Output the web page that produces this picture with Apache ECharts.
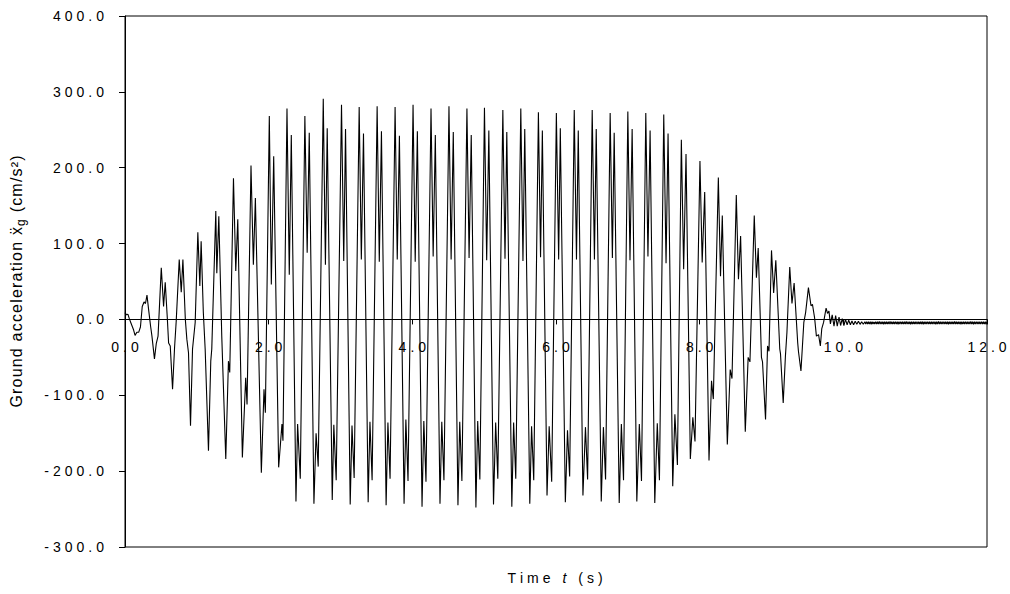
<!DOCTYPE html>
<html>
<head>
<meta charset="utf-8">
<script src="https://cdn.jsdelivr.net/npm/echarts@6.0.0/dist/echarts.min.js"></script>
<style>
  html, body { margin: 0; padding: 0; background: #fff; }
  #chart { width: 1010px; height: 594px; }
</style>
</head>
<body>
<div id="chart"></div>
<script>
// Ground acceleration record: [time (s), acceleration (cm/s²)]

// build-up of the motion, 0 – 2.2 s
const rampUp = [
  [0.00, 9], [0.02, 6], [0.04, 7], [0.06, 1], [0.08, -4], [0.10, -9], [0.12, -14], [0.14, -21],
  [0.165, -17], [0.19, -17], [0.215, -10], [0.24, 17], [0.265, 23], [0.285, 21], [0.306, 32],
  [0.33, 12], [0.355, -8], [0.375, -22], [0.41, -52], [0.435, -32], [0.46, -22],
  [0.505, 68], [0.537, 17], [0.56, 49], [0.59, 0], [0.607, -31], [0.63, -35], [0.662, -92],
  [0.69, -37], [0.713, -2], [0.755, 79], [0.783, 36], [0.806, 79], [0.84, 0], [0.861, -26],
  [0.884, -44], [0.912, -140], [0.94, -39], [0.977, -4], [1.014, 115], [1.042, 44], [1.06, 103],
  [1.09, 10], [1.116, -39], [1.162, -173], [1.194, -55], [1.208, -39], [1.264, 143], [1.278, 61],
  [1.306, 136], [1.347, -22], [1.403, -184], [1.44, -55], [1.458, -70], [1.51, 186], [1.542, 64],
  [1.57, 132], [1.634, -182], [1.68, -77], [1.699, -112], [1.754, 203], [1.787, 72], [1.815, 160],
  [1.898, -202], [1.935, -92], [1.954, -123], [2.009, 268], [2.037, 46], [2.07, 215],
  [2.139, -195], [2.185, -138], [2.199, -160]
];

// strong-motion phase, 2.25 – 7.45 s
const steady = [
  [2.255, 278], [2.287, 59], [2.315, 243], [2.38, -240], [2.403, -138], [2.44, -210],
  [2.504, 268], [2.536, 88], [2.565, 246], [2.63, -243], [2.66, -150], [2.69, -194],
  [2.76, 291], [2.79, 72], [2.815, 252], [2.885, -238], [2.907, -139], [2.94, -212],
  [3.014, 283], [3.045, 77], [3.07, 251], [3.135, -244], [3.16, -140], [3.19, -209],
  [3.26, 280], [3.29, 79], [3.32, 245], [3.385, -241], [3.41, -135], [3.44, -212],
  [3.51, 281], [3.54, 76], [3.57, 248], [3.635, -245], [3.66, -136], [3.69, -210],
  [3.76, 280], [3.79, 79], [3.82, 242], [3.885, -243], [3.91, -132], [3.94, -213],
  [4.01, 283], [4.04, 76], [4.07, 248], [4.135, -247], [4.16, -134], [4.19, -214],
  [4.26, 278], [4.29, 83], [4.32, 243], [4.385, -243], [4.41, -135], [4.44, -212],
  [4.51, 281], [4.54, 79], [4.57, 247], [4.635, -245], [4.66, -135], [4.69, -213],
  [4.76, 278], [4.79, 81], [4.82, 243], [4.885, -248], [4.91, -134], [4.94, -211],
  [5.004, 279], [5.035, 78], [5.065, 249], [5.13, -244], [5.16, -136], [5.19, -210],
  [5.26, 276], [5.29, 80], [5.315, 247], [5.385, -247], [5.41, -136], [5.44, -210],
  [5.51, 278], [5.54, 77], [5.565, 251], [5.635, -243], [5.66, -141], [5.69, -212],
  [5.755, 273], [5.785, 82], [5.81, 249], [5.875, -232], [5.905, -141], [5.94, -214],
  [6.005, 272], [6.037, 79], [6.06, 252], [6.13, -241], [6.16, -146], [6.19, -207],
  [6.254, 276], [6.285, 79], [6.31, 249], [6.375, -232], [6.41, -142], [6.44, -211],
  [6.504, 276], [6.535, 79], [6.56, 251], [6.63, -240], [6.66, -142], [6.69, -211],
  [6.754, 272], [6.785, 81], [6.81, 246], [6.88, -242], [6.91, -138], [6.94, -212],
  [7.00, 274], [7.03, 78], [7.06, 251], [7.125, -240], [7.16, -138], [7.19, -213],
  [7.25, 272], [7.28, 83], [7.31, 249], [7.375, -242], [7.41, -137], [7.44, -212]
];

// decay of the motion, 7.5 – 9.5 s
const rampDown = [
  [7.50, 270], [7.532, 74], [7.56, 245], [7.625, -220], [7.655, -125], [7.69, -192],
  [7.745, 237], [7.777, 66], [7.81, 218], [7.87, -184], [7.905, -129], [7.935, -161],
  [8.004, 209], [8.035, 75], [8.07, 168], [8.13, -186], [8.165, -81], [8.19, -105],
  [8.26, 187], [8.29, 57], [8.315, 137], [8.385, -165], [8.425, -66], [8.45, -78],
  [8.51, 164], [8.54, 53], [8.57, 110], [8.635, -148], [8.675, -50], [8.70, -56],
  [8.76, 137], [8.79, 55], [8.815, 94], [8.86, -50], [8.875, -56], [8.917, -132], [8.945, -35], [8.965, -42],
  [9.00, 91], [9.03, 35], [9.06, 78], [9.115, -39], [9.125, -45], [9.163, -110], [9.194, -48], [9.215, -17],
  [9.254, 69], [9.285, 21], [9.315, 48], [9.365, -31], [9.375, -42], [9.41, -68], [9.45, -4], [9.475, 9],
  [9.514, 42]
];

// free vibration after the motion, 9.55 – 10.29 s
const decay = [
  [9.550, 18], [9.570, 20], [9.600, 2], [9.625, -22], [9.655, -20], [9.680, -35], [9.700, -12],
  [9.725, -4], [9.760, 15], [9.780, 8], [9.800, 11], [9.820, -6], [9.845, 6], [9.870, -9],
  [9.893, 5], [9.915, -9], [9.940, 3], [9.962, -8], [9.985, 1], [10.008, -8], [10.030, 0],
  [10.053, -7], [10.075, -1], [10.098, -7], [10.120, -2], [10.143, -7], [10.165, -2.5],
  [10.188, -6.5], [10.210, -2.5], [10.233, -6.5], [10.255, -3], [10.278, -6.3]
];

// residual high-frequency record, 10.3 – 12 s
const tail = [
  [10.3000, -3.0], [10.3125, -6.1], [10.3250, -2.9], [10.3375, -6.2], [10.3500, -3.1], [10.3625, -6.0], [10.3750, -2.9], [10.3875, -6.3],
  [10.4000, -3.0], [10.4125, -6.1], [10.4250, -3.2], [10.4375, -6.0], [10.4500, -2.9], [10.4625, -6.2], [10.4750, -3.0], [10.4875, -6.1],
  [10.5000, -2.8], [10.5125, -6.2], [10.5250, -3.1], [10.5375, -6.0], [10.5500, -3.0], [10.5625, -6.3], [10.5750, -2.9], [10.5875, -6.1],
  [10.6000, -3.1], [10.6125, -6.0], [10.6250, -3.0], [10.6375, -6.2], [10.6500, -2.8], [10.6625, -6.1], [10.6750, -3.1], [10.6875, -6.0],
  [10.7000, -3.0], [10.7125, -6.2], [10.7250, -2.9], [10.7375, -6.1], [10.7500, -3.1], [10.7625, -6.3], [10.7750, -3.0], [10.7875, -6.0],
  [10.8000, -2.9], [10.8125, -6.2], [10.8250, -3.1], [10.8375, -6.1], [10.8500, -3.0], [10.8625, -6.0], [10.8750, -2.8], [10.8875, -6.2],
  [10.9000, -3.1], [10.9125, -6.1], [10.9250, -3.0], [10.9375, -6.3], [10.9500, -2.9], [10.9625, -6.0], [10.9750, -3.1], [10.9875, -6.2],
  [11.0000, -3.0], [11.0125, -6.1], [11.0250, -2.9], [11.0375, -6.0], [11.0500, -3.1], [11.0625, -6.2], [11.0750, -3.0], [11.0875, -6.1],
  [11.1000, -2.8], [11.1125, -6.3], [11.1250, -3.1], [11.1375, -6.0], [11.1500, -3.0], [11.1625, -6.2], [11.1750, -2.9], [11.1875, -6.1],
  [11.2000, -3.1], [11.2125, -6.0], [11.2250, -3.0], [11.2375, -6.2], [11.2500, -2.9], [11.2625, -6.1], [11.2750, -3.1], [11.2875, -6.3],
  [11.3000, -3.0], [11.3125, -6.0], [11.3250, -2.8], [11.3375, -6.2], [11.3500, -3.1], [11.3625, -6.1], [11.3750, -3.0], [11.3875, -6.0],
  [11.4000, -2.9], [11.4125, -6.2], [11.4250, -3.1], [11.4375, -6.1], [11.4500, -3.0], [11.4625, -6.3], [11.4750, -2.9], [11.4875, -6.0],
  [11.5000, -3.1], [11.5125, -6.2], [11.5250, -3.0], [11.5375, -6.1], [11.5500, -2.8], [11.5625, -6.0], [11.5750, -3.1], [11.5875, -6.2],
  [11.6000, -3.0], [11.6125, -6.1], [11.6250, -2.9], [11.6375, -6.3], [11.6500, -3.1], [11.6625, -6.0], [11.6750, -3.0], [11.6875, -6.2],
  [11.7000, -2.9], [11.7125, -6.1], [11.7250, -3.1], [11.7375, -6.0], [11.7500, -3.0], [11.7625, -6.2], [11.7750, -2.8], [11.7875, -6.1],
  [11.8000, -3.1], [11.8125, -6.3], [11.8250, -3.0], [11.8375, -6.0], [11.8500, -2.9], [11.8625, -6.2], [11.8750, -3.1], [11.8875, -6.1],
  [11.9000, -3.0], [11.9125, -6.0], [11.9250, -2.9], [11.9375, -6.2], [11.9500, -3.1], [11.9625, -6.1], [11.9750, -3.0], [11.9875, -6.3],
  [12.0000, -3.1]
];

const accel = rampUp.concat(steady, rampDown, decay, tail);

// axis ranges and titles
const X_MIN = 0, X_MAX = 12, X_STEP = 2;
const Y_MIN = -300, Y_MAX = 400, Y_STEP = 100;
const X_TITLE = [['Time ', 'a'], ['t', 'i'], [' (s)', 'a']];
const Y_TITLE = [['Ground acceleration ', 'n'], ['ẍ', 'n'], ['g', 'g'], [' (cm/s²)', 'n']];

// plot box in pixels
const GRID = { left: 123, right: 23, top: 16, bottom: 47 };
const PLOT_H = 594 - GRID.top - GRID.bottom;

const FONT = '"Liberation Sans", Arial, sans-serif';

// Letter-spaced rich text: every glyph is its own token; all but the last carry right padding.
function spaced(segments) {
  const glyphs = [];
  segments.forEach(([txt, st]) => Array.from(txt).forEach(c => glyphs.push([c, st])));
  return glyphs.map(([c, st], i) => '{' + st + (i === glyphs.length - 1 ? '0' : '') + '|' + c + '}').join('');
}
function richPair(name, base, gap) {
  const out = {};
  out[name] = Object.assign({}, base, { padding: [0, gap, 0, 0] });
  out[name + '0'] = Object.assign({}, base, { padding: [0, 0, 0, 0] });
  return out;
}

const TICK_BASE = { color: '#000', fontFamily: FONT, fontSize: 14, lineHeight: 16 };
const tickRich = richPair('d', TICK_BASE, 4);

const yTitleRich = Object.assign(
  richPair('n', { color: '#000', fontFamily: FONT, fontSize: 16, lineHeight: 22, verticalAlign: 'middle' }, 1.2),
  richPair('g', { color: '#000', fontFamily: FONT, fontSize: 12, lineHeight: 22, verticalAlign: 'bottom' }, 1.2)
);
const xTitleRich = Object.assign(
  richPair('a', { color: '#000', fontFamily: FONT, fontSize: 14, lineHeight: 18 }, 4),
  richPair('i', { color: '#000', fontFamily: FONT, fontSize: 14, lineHeight: 18, fontStyle: 'italic' }, 4)
);

const chart = echarts.init(document.getElementById('chart'), null, { renderer: 'svg' });

chart.setOption({
  animation: false,
  backgroundColor: '#fff',
  grid: Object.assign({
    show: true, borderColor: '#000', borderWidth: 1, backgroundColor: 'transparent'
  }, GRID),
  xAxis: {
    type: 'value', min: X_MIN, max: X_MAX, interval: X_STEP,
    // the time axis runs along the zero line of the acceleration scale
    offset: -PLOT_H * (0 - Y_MIN) / (Y_MAX - Y_MIN),
    axisLine: { onZero: false, lineStyle: { color: '#000', width: 1 } },
    axisTick: { show: true, length: 5, lineStyle: { color: '#000' } },
    axisLabel: {
      margin: 20, color: '#000', fontSize: 14, fontFamily: FONT,
      formatter: v => spaced([[v.toFixed(1), 'd']]), rich: tickRich
    },
    splitLine: { show: false }
  },
  yAxis: {
    type: 'value', min: Y_MIN, max: Y_MAX, interval: Y_STEP,
    axisLine: { show: true, lineStyle: { color: '#000', width: 1 } },
    axisTick: { show: true, length: 6, lineStyle: { color: '#000' } },
    axisLabel: {
      margin: 21, color: '#000', fontSize: 14, fontFamily: FONT,
      formatter: v => spaced([[v.toFixed(1), 'd']]), rich: tickRich
    },
    splitLine: { show: false },
    name: spaced(Y_TITLE),
    nameLocation: 'middle', nameRotate: 90, nameGap: 98,
    nameTextStyle: { color: '#000', fontFamily: FONT, fontSize: 16, rich: yTitleRich }
  },
  graphic: [{
    type: 'text',
    x: GRID.left + (1010 - GRID.left - GRID.right) / 2,
    y: 578,
    style: {
      text: spaced(X_TITLE), rich: xTitleRich,
      align: 'center', verticalAlign: 'middle', textAlign: 'center', textVerticalAlign: 'middle',
      fill: '#000', font: '14px ' + FONT
    }
  }],
  series: [{
    type: 'line',
    data: accel,
    showSymbol: false,
    symbol: 'none',
    silent: true,
    lineStyle: { color: '#000', width: 1.1 }
  }]
});
</script>
</body>
</html>
